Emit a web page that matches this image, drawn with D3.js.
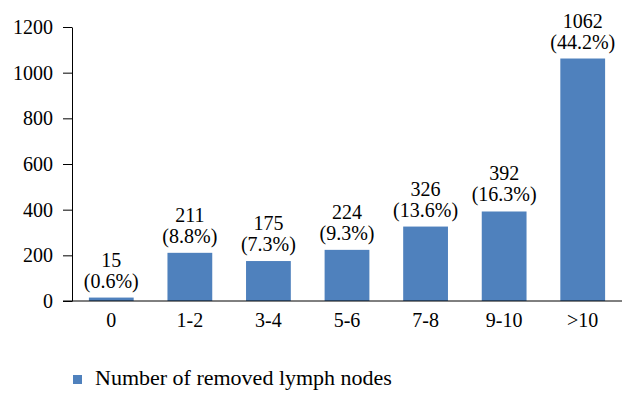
<!DOCTYPE html>
<html>
<head>
<meta charset="utf-8">
<script src="https://cdn.jsdelivr.net/npm/d3@7"></script>
<style>
  body { margin: 0; background: #fff; }
  svg text { font-family: "Liberation Serif", "DejaVu Serif", serif; fill: #000; font-size: 20px; }
</style>
</head>
<body>
<svg id="chart" width="636" height="404"></svg>
<script>
const categories = ["0", "1-2", "3-4", "5-6", "7-8", "9-10", ">10"];
const counts = [15, 211, 175, 224, 326, 392, 1062];
const percents = ["0.6%", "8.8%", "7.3%", "9.3%", "13.6%", "16.3%", "44.2%"];
const yTicks = [0, 200, 400, 600, 800, 1000, 1200];
const seriesName = "Number of removed lymph nodes";

(function () {
  const svg = d3.select("#chart");
  const m = { left: 72, right: 622, top: 27, bottom: 301 };
  const barColor = "#4f81bd";

  const x = d3.scaleBand().domain(categories).range([m.left, m.right]).paddingInner(0.43).paddingOuter(0.215);
  const y = d3.scaleLinear().domain([0, 1200]).range([m.bottom, m.top]);

  // bars
  svg.append("g").selectAll("rect")
    .data(counts)
    .join("rect")
    .attr("x", (d, i) => x(categories[i]))
    .attr("y", d => y(d))
    .attr("width", x.bandwidth())
    .attr("height", d => m.bottom - y(d))
    .attr("fill", barColor);

  // y axis
  const yAxis = svg.append("g")
    .attr("transform", `translate(${m.left},0)`)
    .call(d3.axisLeft(y).tickValues(yTicks).tickFormat(d3.format("d"))
      .tickSize(9).tickPadding(10).tickSizeOuter(0));
  yAxis.attr("font-size", null).attr("font-family", null);
  yAxis.select(".domain").attr("stroke", "#000");

  // x axis line
  svg.append("line")
    .attr("x1", m.left - 9).attr("x2", m.right)
    .attr("y1", m.bottom).attr("y2", m.bottom)
    .attr("stroke", "#000");

  svg.append("g").selectAll("text")
    .data(categories)
    .join("text")
    .attr("x", d => x(d) + x.bandwidth() / 2)
    .attr("y", m.bottom + 26)
    .attr("text-anchor", "middle")
    .text(d => d);

  // value labels
  const labels = svg.append("g").selectAll("text")
    .data(counts)
    .join("text")
    .attr("x", (d, i) => x(categories[i]) + x.bandwidth() / 2)
    .attr("y", d => y(d) - 31)
    .attr("text-anchor", "middle");
  labels.append("tspan").text(d => d);
  labels.append("tspan")
    .attr("x", (d, i) => x(categories[i]) + x.bandwidth() / 2)
    .attr("dy", 21)
    .text((d, i) => `(${percents[i]})`);

  // legend
  const legend = svg.append("g").attr("transform", "translate(73,375)");
  legend.append("rect").attr("width", 9).attr("height", 9).attr("fill", barColor);
  legend.append("text").attr("x", 22).attr("y", 10).style("font-size", "22px").text(seriesName);
})();
</script>
</body>
</html>
